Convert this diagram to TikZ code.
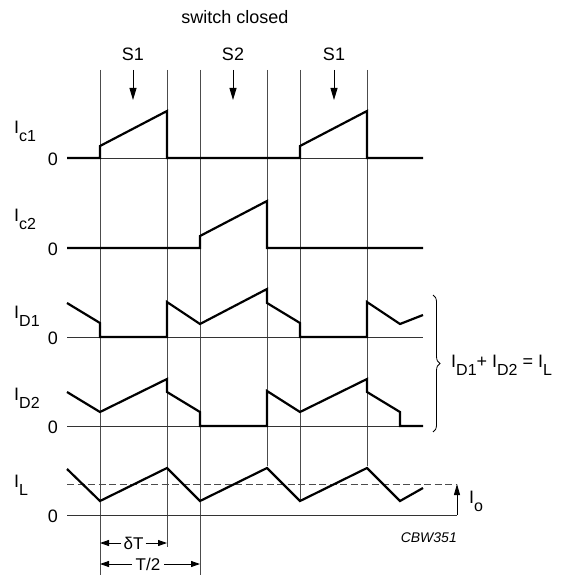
\documentclass[tikz,border=0pt]{standalone}
\usepackage{fontspec}
\setmainfont{Liberation Sans}
\usetikzlibrary{arrows.meta,decorations.pathreplacing}
\newcommand\lsub[1]{\raisebox{-8pt}{\fontsize{16}{16}\selectfont #1}}
\begin{document}
\begin{tikzpicture}[x=1pt,y=-1pt,
  wave/.style={line width=2.2pt,line join=miter},
  vline/.style={line width=0.8pt,black!70},
  base/.style={line width=0.9pt,black!80},
  lbl/.style={inner sep=0pt,font=\fontsize{18}{20}\selectfont},
  zero/.style={inner sep=0pt,anchor=east,font=\fontsize{18}{20}\selectfont},
  sarrow/.style={line width=0.9pt,-{Triangle[length=12pt,width=7pt]}},
  dim/.style={line width=0.9pt,-{Triangle[length=9pt,width=6pt]}}]
\useasboundingbox (0,0) rectangle (568,575);
% vertical timing lines
\foreach \x/\yb in {100/580,167/547,200/580,267/466,300/500,367/466}
  \draw[vline] (\x,70) -- (\x,\yb);
% title and switch labels
\node[lbl,anchor=base] (title) at (235,24) {switch closed};
\node[lbl,anchor=base] (s1a) at (133,61) {S1};
\node[lbl,anchor=base] (s2) at (233,61) {S2};
\node[lbl,anchor=base] (s1b) at (334,61) {S1};
\foreach \n/\x in {a/133,b/233,c/334}{
  \coordinate (t\n) at (\x,70); \coordinate (h\n) at (\x,100);
  \draw[sarrow] (t\n) -- (h\n);}
% Ic1
\node[lbl,anchor=base west] (lc1) at (14,133) {I\lsub{c1}};
\node[zero] (z1) at (58,159) {0};
\draw[base] (67,158) -- (423,158);
\draw[wave] (67,158) -- (100,158) -- (100,146) -- (167,111) -- (167,158) -- (300,158)
  -- (300,146) -- (367,111) -- (367,158) -- (423,158);
% Ic2
\node[lbl,anchor=base west] (lc2) at (14,221) {I\lsub{c2}};
\node[zero] (z2) at (58,249) {0};
\draw[wave] (67,248) -- (200,248) -- (200,236) -- (267,201) -- (267,248) -- (423,248);
% ID1
\node[lbl,anchor=base west] (ld1) at (14,318) {I\lsub{D1}};
\node[zero] (z3) at (58,338) {0};
\draw[base] (67,337) -- (423,337);
\draw[wave] (67,303) -- (100,323) -- (100,337) -- (167,337) -- (167,302) -- (200,324)
  -- (267,289) -- (267,303) -- (300,323) -- (300,337) -- (367,337) -- (367,302)
  -- (400,324) -- (423,315);
% ID2
\node[lbl,anchor=base west] (ld2) at (14,400) {I\lsub{D2}};
\node[zero] (z4) at (58,427) {0};
\draw[base] (67,426) -- (423,426);
\draw[wave] (67,392) -- (100,412) -- (167,379) -- (167,392) -- (200,412) -- (200,426)
  -- (267,426) -- (267,391) -- (300,412) -- (367,379) -- (367,392) -- (400,412)
  -- (400,426) -- (423,426);
% IL
\node[lbl,anchor=base west] (ll) at (14,487) {I\lsub{L}};
\node[zero] (z5) at (58,516) {0};
\coordinate (ob) at (457,515);
\coordinate (ot) at (457,484);
\draw[base] (67,515) -- (ob);
\draw[base,dashed,dash pattern=on 7pt off 3.5pt,black!70] (67,484) -- (ot);
\draw[wave] (67,469) -- (100,501) -- (167,468) -- (200,501) -- (267,468) -- (300,501)
  -- (367,468) -- (400,501) -- (423,488);
\draw[sarrow,-{Triangle[length=11pt,width=6pt]}] (ob) -- (ot);
\node[lbl,anchor=base west] (lo) at (469,503) {I\lsub{o}};
% brace
\draw[line width=0.8pt,decorate,decoration={brace,amplitude=7pt,aspect=0.5}] (433,295) -- (433,432);
\node[lbl,anchor=base west] (sum) at (451,367) {I\lsub{D1}+ I\lsub{D2} = I\lsub{L}};
% code
\node[inner sep=0pt,anchor=base east,font=\fontsize{14}{16}\selectfont\itshape] (code) at (457,542) {CBW351};
% dimensions
\node[lbl,font=\fontsize{17}{18}\selectfont] (dT) at (133.5,543) {δT};
\coordinate (dl) at (100,543); \coordinate (dr) at (167,543);
\draw[dim] ([xshift=-2pt]dT.west) -- (dl);
\draw[dim] ([xshift=2pt]dT.east) -- (dr);
\node[lbl,font=\fontsize{17}{18}\selectfont] (T2) at (148,564) {T/2};
\coordinate (tl) at (100,564); \coordinate (tr) at (200,564);
\draw[dim] ([xshift=-4pt]T2.west) -- (tl);
\draw[dim] ([xshift=4pt]T2.east) -- (tr);
\end{tikzpicture}
\end{document}
